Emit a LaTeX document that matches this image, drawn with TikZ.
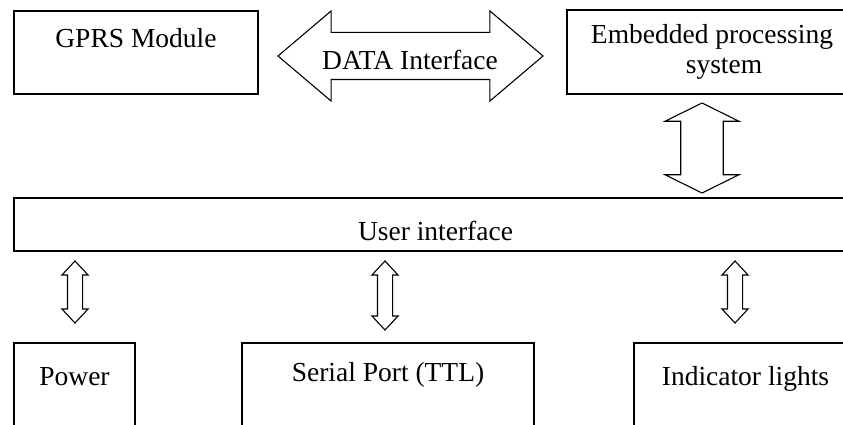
\documentclass[tikz,border=0pt]{standalone}
\usepackage{fontspec}
\setmainfont{Liberation Serif}
\usetikzlibrary{shapes.arrows}

\tikzset{
  box/.style={draw, line width=1.3pt, inner sep=0pt},
  biarrow/.style={draw, double arrow, line width=1.1pt, inner sep=0pt,
    text height=#1, text depth=#1},
}

\begin{document}
\begin{tikzpicture}[x=1pt, y=-1pt, font=\fontsize{27.5}{30}\selectfont]
  \useasboundingbox (0,0) rectangle (843,425);

  % top row
  \node[box, minimum width=244pt, text height=37pt, text depth=46pt] (gprs) at (136,52.5) {GPRS Module};
  \node[box, minimum width=290pt, minimum height=84pt, align=center] (emb) at (712,52)
    {Embedded processing\\\hspace*{24pt}system};
  \node[biarrow=23pt, minimum height=265pt,
        double arrow head extend=21.5pt, double arrow tip angle=80.6] (data) at (410.5,56) {};
  \node[anchor=base] (datatxt) at (410,70) {DATA Interface};

  % user interface
  \node[biarrow=20.7pt, rotate=90, minimum height=90pt,
        double arrow head extend=15.8pt, double arrow tip angle=127.5] (emblink) at (702,148) {};
  \node[box, minimum width=843pt, text height=42pt, text depth=11pt] (ui) at (435.5,224.5) {User interface};

  % bottom row
  \node[box, minimum width=121pt, text height=42pt, text depth=95pt] (pwr) at (74.5,411.5) {Power};
  \node[box, minimum width=292pt, text height=38pt, text depth=99pt] (ser) at (388,411.5) {Serial Port (TTL)};
  \node[box, minimum width=223pt, text height=42pt, text depth=95pt] (ind) at (745.5,411.5) {Indicator lights};

  \foreach \name/\x/\len in {pwrlink/75/62, serlink/385/69, indlink/735/62}
    \node[biarrow=7pt, rotate=90, minimum height=\len pt,
          double arrow head extend=5.5pt, double arrow tip angle=86] (\name) at (\x,261+\len/2) {};
\end{tikzpicture}
\end{document}
